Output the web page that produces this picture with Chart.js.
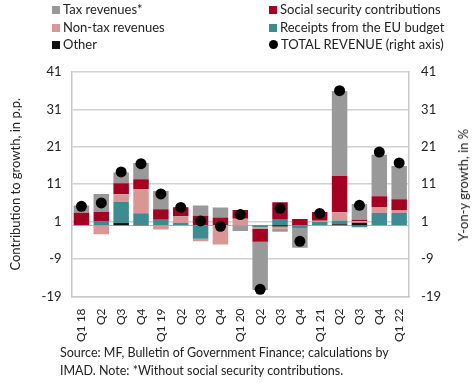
<!DOCTYPE html>
<html>
<head>
<meta charset="utf-8">
<script src="https://cdn.jsdelivr.net/npm/chart.js@4.4.0/dist/chart.umd.min.js"></script>
<style>
  body { margin: 0; background: #fff; font-family: Lato, sans-serif; color: #222; }
  #wrap { position: relative; width: 475px; height: 388px; }
  #chart { position: absolute; left: 0; top: 0; }
  #legend { position: absolute; left: 0; top: 1px; width: 475px; font-size: 13px; }
  .item { position: absolute; white-space: nowrap; line-height: 17px; }
  .mark { display: inline-block; width: 8px; height: 8px; margin-right: 3px; vertical-align: 0px; }
  .dot { border-radius: 50%; width: 9px; height: 9px; }
  #rightTitle { position: absolute; left: 463px; top: 185px; font-size: 13px; white-space: nowrap;
                transform: translate(-50%, -50%) rotate(-90deg); }
  #source { position: absolute; left: 60px; top: 344px; font-size: 12.5px; line-height: 18px; color: #222; }
</style>
</head>
<body>
<div id="wrap">
  <canvas id="chart" width="475" height="346"></canvas>
  <div id="legend"></div>
  <div id="rightTitle">Y-on-y growth, in %</div>
  <div id="source">Source: MF, Bulletin of Government Finance; calculations by<br>IMAD. Note: *Without social security contributions.</div>
</div>
<script>
const quarters = ['Q1 18', 'Q2', 'Q3', 'Q4', 'Q1 19', 'Q2', 'Q3', 'Q4', 'Q1 20', 'Q2', 'Q3', 'Q4', 'Q1 21', 'Q2', 'Q3', 'Q4', 'Q1 22'];

const taxRevenues = [1.9, 4.8, 2.9, 4.3, 4.9, 0, 2.7, 2.7, -1.5, -12.9, -0.8, -5.3, 0, 22.7, 4.2, 11.1, 8.9];
const socialContributions = [3.3, 2.4, 2.9, 2.7, 2.8, 2.4, 2.6, 2.1, 2.3, -3.4, 4.5, 1.7, 2.3, 9.7, 0.4, 2.9, 3.0];
const nonTaxRevenues = [0, -2.4, 2.1, 6.4, -1.1, 1.8, -0.7, -5.1, 1.8, -0.45, -0.6, 0, 0.35, 2.2, 0.4, 1.6, 0.7];
const euReceipts = [0.1, 1.2, 5.6, 3.1, 1.5, 0.65, -3.55, 0, 0, -0.5, 1.7, -0.7, 0.9, 1.0, -0.5, 3.3, 3.3];
const otherRevenues = [0, 0, 0.65, 0.15, 0, 0, 0, 0, 0, 0, -0.3, 0, 0, 0.3, 0.7, 0, 0];
const totalRevenue = [5.1, 6.0, 14.3, 16.5, 8.4, 4.8, 1.2, -0.25, 2.9, -17.1, 4.55, -4.25, 3.2, 36.0, 5.35, 19.6, 16.7];

const yTicks = [-19, -9, 1, 11, 21, 31, 41];

const colors = {
    tax: '#999999',
    social: '#a50021',
    nonTax: '#da9694',
    eu: '#3b8c93',
    other: '#111111',
    total: '#000000'
};

// legend is laid out in two columns like the original
const legendItems = [
    { text: 'Tax revenues*', color: colors.tax, col: 0, row: 0 },
    { text: 'Social security contributions', color: colors.social, col: 1, row: 0 },
    { text: 'Non-tax revenues', color: colors.nonTax, col: 0, row: 1 },
    { text: 'Receipts from the EU budget', color: colors.eu, col: 1, row: 1 },
    { text: 'Other', color: colors.other, col: 0, row: 2 },
    { text: 'TOTAL REVENUE (right axis)', color: colors.total, col: 1, row: 2, dot: true }
];
const legend = document.getElementById('legend');
legendItems.forEach(function(it) {
    const d = document.createElement('div');
    d.className = 'item';
    d.style.left = (it.col ? 269 : 52) + 'px';
    d.style.top = (it.row * 17.5) + 'px';
    d.innerHTML = '<span class="mark' + (it.dot ? ' dot' : '') + '" style="background:' + it.color + '"></span>' + it.text;
    legend.appendChild(d);
});

const zeroLine = {
    id: 'zeroLine',
    beforeDatasetsDraw(chart) {
        const ctx = chart.ctx;
        const y = Math.round(chart.scales.y.getPixelForValue(0)) + 0.5;
        ctx.save();
        ctx.strokeStyle = '#b5b5b5';
        ctx.lineWidth = 1;
        ctx.beginPath();
        ctx.moveTo(chart.chartArea.left, y);
        ctx.lineTo(chart.chartArea.right, y);
        ctx.stroke();
        ctx.restore();
    }
};

const tickFont = { family: 'Lato', size: 13 };

function barSet(label, data, color) {
    return {
        type: 'bar',
        label: label,
        data: data,
        backgroundColor: color,
        barPercentage: 0.78,
        categoryPercentage: 1,
        yAxisID: 'y',
        order: 2
    };
}

new Chart(document.getElementById('chart').getContext('2d'), {
    data: {
        labels: quarters,
        datasets: [
            {
                type: 'line',
                label: 'TOTAL REVENUE (right axis)',
                data: totalRevenue,
                showLine: false,
                pointRadius: 5.5,
                pointBackgroundColor: colors.total,
                pointBorderWidth: 0,
                yAxisID: 'y2',
                order: 1
            },
            barSet('Other', otherRevenues, colors.other),
            barSet('Receipts from the EU budget', euReceipts, colors.eu),
            barSet('Non-tax revenues', nonTaxRevenues, colors.nonTax),
            barSet('Social security contributions', socialContributions, colors.social),
            barSet('Tax revenues*', taxRevenues, colors.tax)
        ]
    },
    options: {
        responsive: false,
        animation: false,
        layout: { padding: { top: 72, left: 8, right: 22, bottom: 0 } },
        plugins: {
            legend: { display: false },
            tooltip: { enabled: false }
        },
        scales: {
            x: {
                stacked: true,
                grid: { display: false },
                border: { color: '#c8c8c8', width: 1.5 },
                ticks: {
                    color: '#222',
                    font: { family: 'Lato', size: 12 },
                    maxRotation: 90,
                    minRotation: 90,
                    autoSkip: false,
                    padding: 4
                }
            },
            y: {
                stacked: true,
                position: 'left',
                min: -19,
                max: 41,
                afterBuildTicks: function(axis) {
                    axis.ticks = yTicks.map(function(v) { return { value: v }; });
                },
                grid: { color: '#d0d0d0', lineWidth: 1.5, drawTicks: false },
                border: { color: '#c8c8c8', width: 1.5 },
                ticks: { color: '#222', font: tickFont, padding: 10 },
                title: {
                    display: true,
                    text: 'Contribution to growth, in p.p.',
                    color: '#222',
                    font: { family: 'Lato', size: 13 },
                    padding: { top: 0, bottom: 8 }
                }
            },
            y2: {
                position: 'right',
                min: -19,
                max: 41,
                afterBuildTicks: function(axis) {
                    axis.ticks = yTicks.map(function(v) { return { value: v }; });
                },
                grid: { drawOnChartArea: false, drawTicks: false },
                border: { color: '#c8c8c8', width: 1.5 },
                ticks: { color: '#222', font: tickFont, padding: 12 }
            }
        }
    },
    plugins: [zeroLine]
});
</script>
</body>
</html>
